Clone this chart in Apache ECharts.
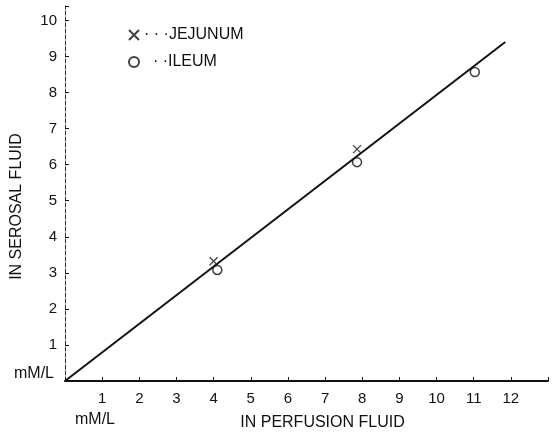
<!DOCTYPE html>
<html>
<head>
<meta charset="utf-8">
<script src="https://cdn.jsdelivr.net/npm/echarts@6/dist/echarts.min.js"></script>
<style>
  html, body { margin: 0; padding: 0; background: #fff; }
  #chart { width: 559px; height: 436px; }
</style>
</head>
<body>
<div id="chart"></div>
<script>
const fitLine = [[0, 0], [11.85, 9.4]]
const jejunum = [[4.0, 3.32], [7.86, 6.43]]
const ileum = [[4.1, 3.08], [7.86, 6.07], [11.03, 8.57]]
const xTicks = [1, 2, 3, 4, 5, 6, 7, 8, 9, 10, 11, 12]
const yTicks = [1, 2, 3, 4, 5, 6, 7, 8, 9, 10]

const font = "Liberation Sans"
const ink = "#111"

let chart = echarts.init(document.getElementById("chart"))
chart.setOption({
  animation: false,
  grid: {
    left: 65,
    right: 11,
    top: 6,
    bottom: 50,
  },
  legend: {
    orient: "vertical",
    left: 123,
    top: 22,
    itemGap: 11,
    itemWidth: 10,
    itemHeight: 10,
    data: ["JEJUNUM", "ILEUM"],
    formatter: (name) => (name == "JEJUNUM" ? "· · ·" : "  · ·") + name,
    textStyle: { fontFamily: font, fontSize: 16, color: ink },
  },
  xAxis: {
    type: "value",
    min: 0,
    max: 13,
    interval: 1,
    splitLine: { show: false },
    axisLine: { lineStyle: { color: ink, width: 2 } },
    axisTick: { inside: true, length: 4, lineStyle: { color: ink } },
    axisLabel: {
      margin: 10,
      fontFamily: font,
      fontSize: 15,
      color: ink,
      formatter: (v) => (xTicks.includes(v) ? String(v) : ""),
    },
    name: "IN PERFUSION FLUID",
    nameLocation: "middle",
    nameGap: 34,
    nameTextStyle: { fontFamily: font, fontSize: 16, color: ink, padding: [0, 0, 0, 32] },
  },
  yAxis: {
    type: "value",
    min: 0,
    max: 10.4,
    interval: 1,
    splitLine: { show: false },
    axisLine: { onZero: false, lineStyle: { color: "#333", width: 1, type: [4, 2] } },
    axisTick: { inside: true, length: 4, lineStyle: { color: ink } },
    axisLabel: {
      margin: 8,
      fontFamily: font,
      fontSize: 15,
      color: ink,
      formatter: (v) => (yTicks.includes(v) ? String(v) : ""),
    },
    name: "IN SEROSAL FLUID",
    nameLocation: "middle",
    nameGap: 40,
    nameTextStyle: { fontFamily: font, fontSize: 16, color: ink, padding: [0, 26, 0, 0] },
  },
  graphic: [
    {
      type: "text",
      left: 14,
      top: 366,
      style: { text: "mM/L", font: "16px " + font, fill: ink },
    },
    {
      type: "text",
      left: 75,
      top: 412,
      style: { text: "mM/L", font: "16px " + font, fill: ink },
    },
  ],
  series: [
    {
      type: "line",
      data: fitLine,
      showSymbol: false,
      lineStyle: { color: ink, width: 2 },
      silent: true,
    },
    {
      name: "JEJUNUM",
      type: "scatter",
      data: jejunum,
      symbol: "path://M0,0L10,10M10,0L0,10",
      symbolSize: 8,
      itemStyle: { color: "transparent", borderColor: ink, borderWidth: 1.3 },
    },
    {
      name: "ILEUM",
      type: "scatter",
      data: ileum,
      symbol: "circle",
      symbolSize: 9,
      itemStyle: { color: "#fff", borderColor: ink, borderWidth: 1.5 },
    },
  ],
})
</script>
</body>
</html>
